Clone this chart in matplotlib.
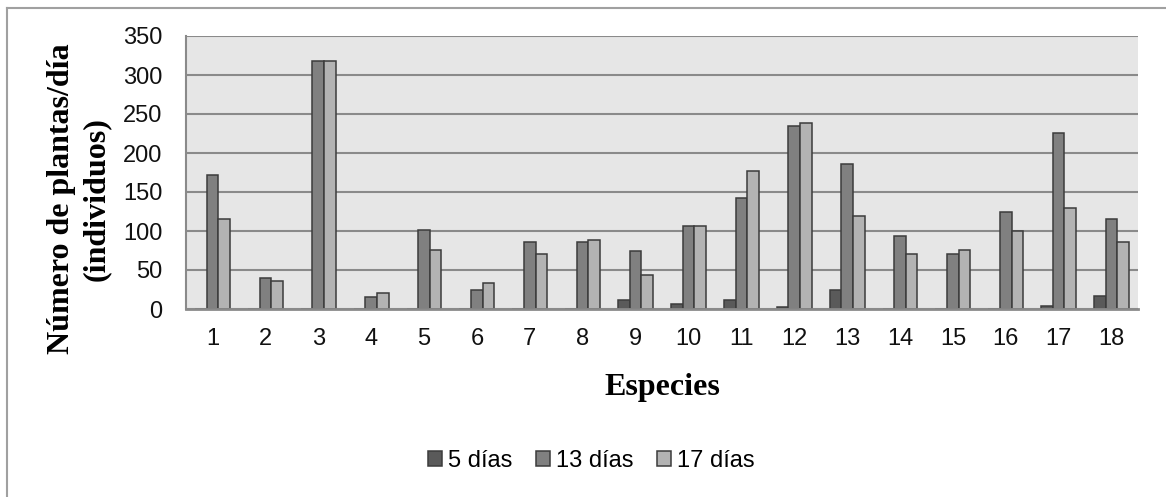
import matplotlib.pyplot as plt
from matplotlib.lines import Line2D
import numpy as np

especies = [str(i) for i in range(1, 19)]
d5 = [0, 0, 0, 0, 0, 0, 0, 0, 11, 7, 11, 2, 25, 0, 0, 0, 4, 17]
d13 = [172, 40, 318, 15, 101, 25, 86, 86, 75, 106, 142, 235, 186, 93, 70, 124, 226, 115]
d17 = [115, 36, 318, 20, 76, 33, 70, 88, 43, 106, 177, 238, 119, 71, 76, 100, 129, 86]
series = ['5 días', '13 días', '17 días']

W, H = 1166, 497
fig = plt.figure(figsize=(W / 100, H / 100), dpi=100)
ax = fig.add_axes([186 / W, 1 - 309 / H, (1138 - 186) / W, (309 - 36) / H])

sans = ['Liberation Sans', 'DejaVu Sans']
serif = ['Liberation Serif', 'DejaVu Serif']

x = np.arange(len(especies))
bw = 0.22
cols = ['#5a5a5a', '#808080', '#b3b3b3']
for i, (vals, c, lab) in enumerate(zip([d5, d13, d17], cols, series)):
    ax.bar(x + (i - 1) * bw, vals, bw, color=c, edgecolor='#3c3c3c',
           linewidth=1.1, label=lab, zorder=3)

ax.set_facecolor('#e6e6e6')
ax.set_xlim(-0.5, len(especies) - 0.5)
ax.set_ylim(0, 350)
ax.set_yticks(range(0, 351, 50))
ax.set_xticks(x)
ax.set_xticklabels(especies)
ax.yaxis.grid(True, color='#8a8a8a', linewidth=1.5, zorder=1)
ax.set_axisbelow(True)
ax.tick_params(length=0, labelsize=17, colors='#111111')
ax.tick_params(axis='y', pad=17)
ax.tick_params(axis='x', pad=14)
for t in ax.get_xticklabels() + ax.get_yticklabels():
    t.set_family(sans)

for s in ['top', 'right']:
    ax.spines[s].set_visible(False)
ax.spines['left'].set_color('#8a8a8a')
ax.spines['left'].set_linewidth(1.5)
ax.spines['bottom'].set_color('#8a8a8a')
ax.spines['bottom'].set_linewidth(2)
ax.spines['bottom'].set_zorder(4)

fig.text(79 / W, 1 - 199 / H, 'Número de plantas/día\n(individuos)', rotation=90,
         ha='center', va='center', multialignment='center', fontsize=23,
         fontweight='bold', family=serif, linespacing=1.3)
fig.text(662 / W, 1 - 388 / H, 'Especies', ha='center', va='center',
         fontsize=23, fontweight='bold', family=serif)

leg = fig.legend(loc='center', bbox_to_anchor=(591 / W, 1 - 461 / H), ncol=3,
                 frameon=False, prop={'family': sans, 'size': 17},
                 handlelength=0.6, handleheight=0.6, handletextpad=0.25,
                 columnspacing=1.0)

# outer chart border
fig.add_artist(Line2D([7 / W, 7 / W], [0, 1 - 8 / H], color='#a0a0a0', lw=1.5))
fig.add_artist(Line2D([7 / W, 1], [1 - 8 / H, 1 - 8 / H], color='#a0a0a0', lw=1.5))

plt.savefig('out.png', dpi=100)
